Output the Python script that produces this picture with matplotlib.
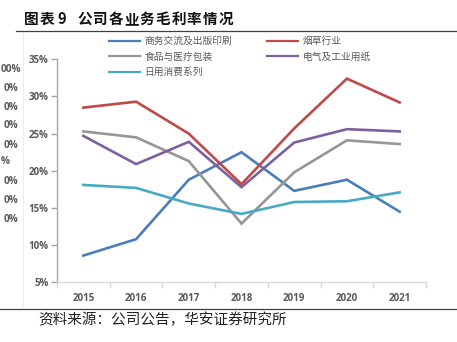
import matplotlib
matplotlib.use("Agg")
import matplotlib.pyplot as plt
from matplotlib.lines import Line2D

years = ["2015", "2016", "2017", "2018", "2019", "2020", "2021"]

# 毛利率 (%)
shangwu = [8.6, 10.8, 18.8, 22.5, 17.3, 18.8, 14.5]
yancao = [28.5, 29.3, 25.0, 18.2, 25.7, 32.4, 29.2]
shipin = [25.3, 24.5, 21.3, 12.9, 19.8, 24.1, 23.6]
dianqi = [24.7, 20.9, 23.9, 17.8, 23.8, 25.6, 25.3]
riyong = [18.1, 17.7, 15.6, 14.2, 15.8, 15.9, 17.1]

names = ["商务交流及出版印刷", "烟草行业", "食品与医疗包装", "电气及工业用纸", "日用消费系列"]
colors = ["#4A7EBB", "#BE4B48", "#969696", "#7D60A0", "#46AAC5"]

yticks = [5, 10, 15, 20, 25, 30, 35]

# what shows of the neighbouring chart's axis labels at the left edge
edge_labels = ["00%", "0%", "0%", "0%", "0%", "%", "0%", "0%", "0%"]

plt.rcParams["font.family"] = ["Open Sans", "Noto Sans CJK SC", "DejaVu Sans"]

W, H = 457, 342
fig = plt.figure(figsize=(W / 100, H / 100), dpi=100)
ax = fig.add_axes([57 / W, 1 - 282.3 / H, 369 / W, 223 / H])

series = [shangwu, yancao, shipin, dianqi, riyong]
x = list(range(len(years)))
handles = []
for vals, name, c in zip(series, names, colors):
    h, = ax.plot(x, vals, color=c, lw=1.9, label=name, solid_joinstyle="miter")
    handles.append(h)

ax.set_xlim(-0.5, len(years) - 0.5)
ax.set_ylim(5, 35)
ax.set_yticks(yticks)
ax.set_yticklabels([f"{v}%" for v in yticks])
ax.set_xticks(x)
ax.set_xticklabels(years)
ax.set_xticks([i - 0.5 for i in range(len(years) + 1)], minor=True)

for s in ["top", "right"]:
    ax.spines[s].set_visible(False)
ax.spines["left"].set_color("#a6a6a6")
ax.spines["bottom"].set_color("#d9d9d9")
ax.spines["left"].set_linewidth(1.0)
ax.spines["bottom"].set_linewidth(1.0)

ax.tick_params(axis="y", length=4, width=1, color="#a6a6a6", pad=2,
               labelsize=7, labelcolor="#595959")
ax.tick_params(axis="x", which="major", length=0, pad=8,
               labelsize=7, labelcolor="#595959")
ax.tick_params(axis="x", which="minor", length=4, width=1, color="#d9d9d9")
for lab in ax.get_xticklabels() + ax.get_yticklabels():
    lab.set_fontweight("bold")

# legend: two columns, filled column by column
order = [0, 2, 4, 1, 3]
leg = fig.legend([handles[i] for i in order], [names[i] for i in order],
                 ncol=2, loc="upper left",
                 bbox_to_anchor=(109 / W, 1 - 36 / H),
                 frameon=False, fontsize=7, handlelength=3.2,
                 handletextpad=0.45, columnspacing=3.6, labelspacing=0.46,
                 borderpad=0, borderaxespad=0)
for t in leg.get_texts():
    t.set_color("#595959")
for ln in leg.get_lines():
    ln.set_linewidth(1.6)

# title, set with a little extra spacing between the characters
title_parts = [("图", 24), ("表", 39.5), ("9", 57.5)]
title_parts += [(ch, 77 + i * 15.7) for i, ch in enumerate("公司各业务毛利率情况")]
for ch, px in title_parts:
    fig.text(px / W, 1 - 19 / H, ch, fontsize=10.5, fontweight="bold",
             va="center", ha="left", color="#111111",
             family=["Noto Sans CJK SC", "DejaVu Sans"])

fig.add_artist(Line2D([16 / W, 1], [1 - 31 / H] * 2, transform=fig.transFigure,
                      color="#404040", lw=0.9))
fig.add_artist(Line2D([0, 1], [1 - 309 / H] * 2, transform=fig.transFigure,
                      color="#404040", lw=0.9))
fig.add_artist(Line2D([23 / W] * 2, [1 - 33 / H, 1 - 307 / H],
                      transform=fig.transFigure, color="#eeeeee", lw=0.8))

fig.text(38 / W, 1 - 320 / H, "资料来源：公司公告，华安证券研究所", fontsize=10.5,
         va="center", ha="left", color="#222222",
         family=["Noto Sans CJK SC", "DejaVu Sans"])

edge_y = [70, 88.3, 107.7, 126, 145, 161.7, 182, 200.7, 219]
edge_x = [0.5, 3.5, 3.5, 3.5, 3.5, 0.5, 3.5, 3.5, 3.5]
for lab, yy, xx in zip(edge_labels, edge_y, edge_x):
    fig.text(xx / W, 1 - yy / H, lab, fontsize=7.2, fontweight="bold",
             color="#595959", ha="left", va="center")

fig.savefig("out.png", dpi=100)
